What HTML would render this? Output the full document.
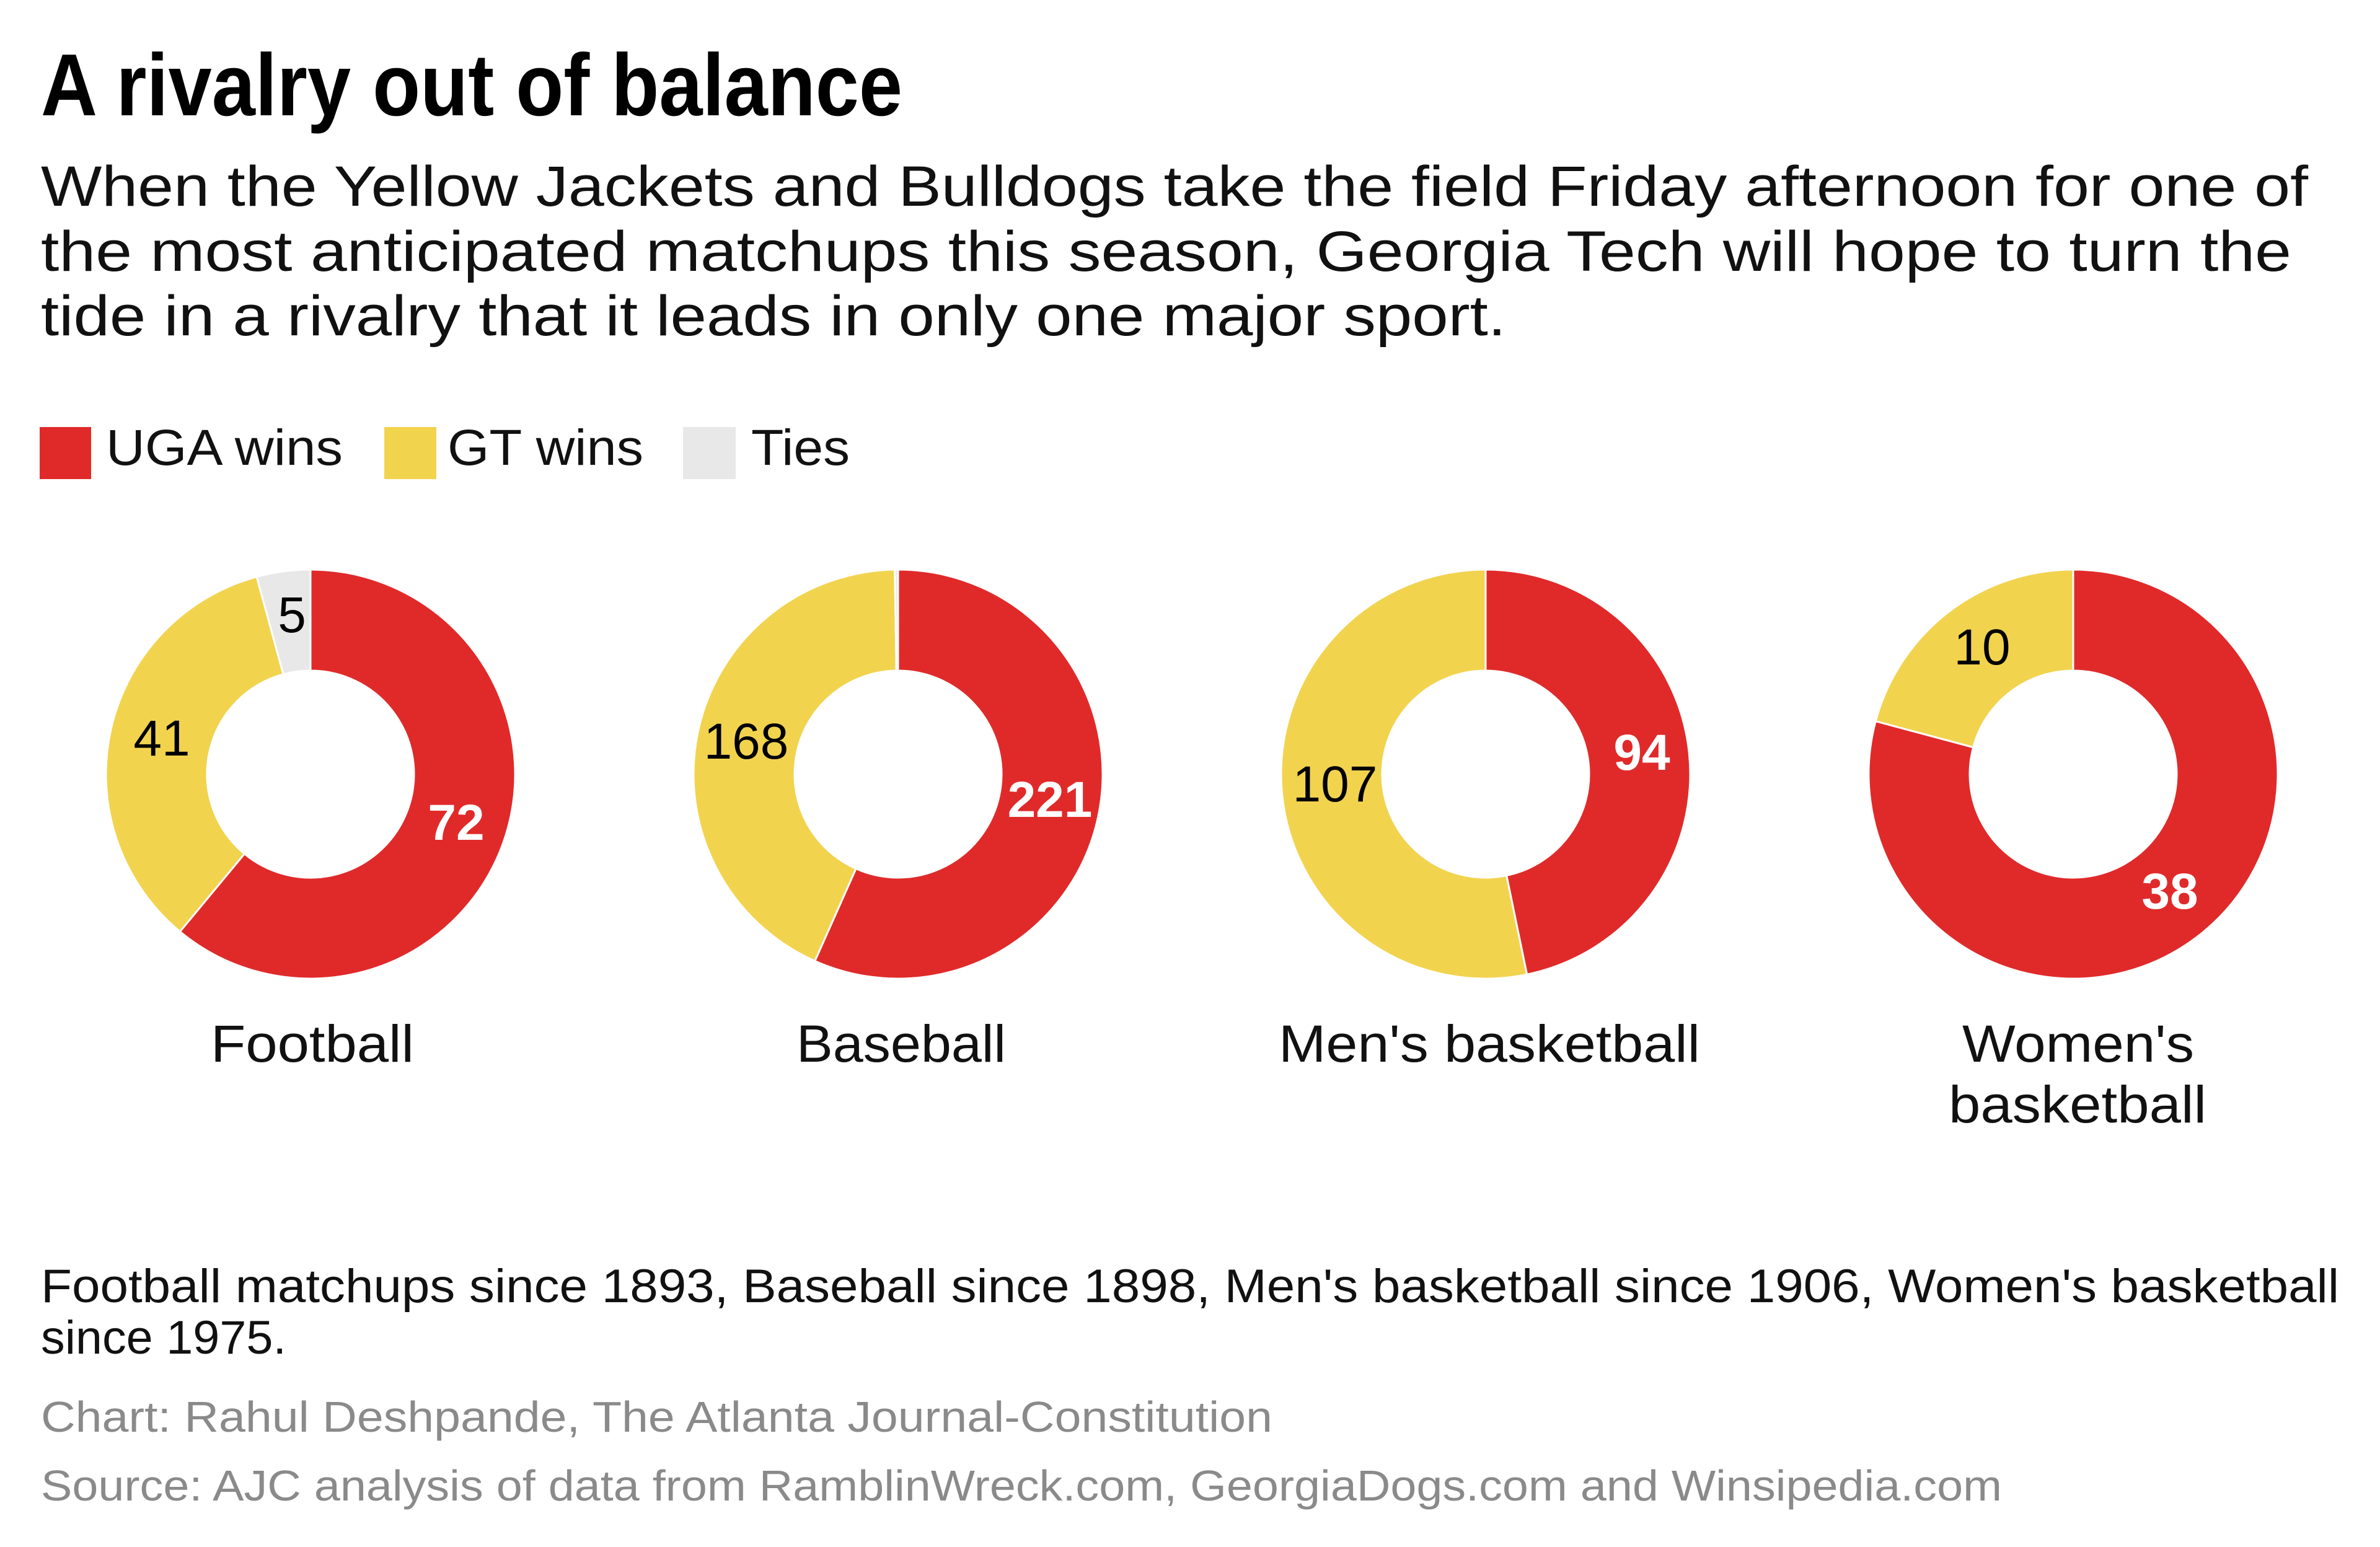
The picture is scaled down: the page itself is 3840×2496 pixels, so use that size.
<!DOCTYPE html>
<html><head><meta charset="utf-8"><style>
html,body{margin:0;padding:0;background:#fff;}
svg{display:block;}
text{font-family:"Liberation Sans",sans-serif;}
</style></head><body>
<svg id="s" width="3840" height="2496" viewBox="0 0 3840 2496" xmlns="http://www.w3.org/2000/svg">
<rect width="3840" height="2496" fill="#fff"/>
<text x="66" y="186" font-size="142" font-weight="bold" fill="#000" textLength="1390" lengthAdjust="spacingAndGlyphs">A rivalry out of balance</text>
<g font-size="92" fill="#111">
<text x="66" y="332" textLength="3658" lengthAdjust="spacingAndGlyphs">When the Yellow Jackets and Bulldogs take the field Friday afternoon for one of</text>
<text x="66" y="437" textLength="3631" lengthAdjust="spacingAndGlyphs">the most anticipated matchups this season, Georgia Tech will hope to turn the</text>
<text x="66" y="541" textLength="2364" lengthAdjust="spacingAndGlyphs">tide in a rivalry that it leads in only one major sport.</text>
</g>
<rect x="64" y="689" width="83" height="84" fill="#e02a2a"/>
<rect x="620" y="689" width="84" height="84" fill="#f2d34e"/>
<rect x="1102" y="689" width="85" height="84" fill="#e8e8e8"/>
<g font-size="82" fill="#111">
<text x="171" y="750" textLength="382" lengthAdjust="spacingAndGlyphs">UGA wins</text>
<text x="722" y="750" textLength="316" lengthAdjust="spacingAndGlyphs">GT wins</text>
<text x="1212" y="750" textLength="159" lengthAdjust="spacingAndGlyphs">Ties</text>
</g>
<g id="donuts"></g>
<g font-size="82" fill="#000" text-anchor="middle">
<text x="471" y="1020">5</text>
<text x="261" y="1219">41</text>
<text x="736" y="1355" fill="#fff" font-weight="bold">72</text>
<text x="1204" y="1224">168</text>
<text x="1694" y="1318" fill="#fff" font-weight="bold">221</text>
<text x="2154" y="1293">107</text>
<text x="2649" y="1242" fill="#fff" font-weight="bold">94</text>
<text x="3198" y="1072">10</text>
<text x="3501" y="1466" fill="#fff" font-weight="bold">38</text>
</g>
<g font-size="84" fill="#111">
<text x="340" y="1713" textLength="328" lengthAdjust="spacingAndGlyphs">Football</text>
<text x="1285" y="1713" textLength="338" lengthAdjust="spacingAndGlyphs">Baseball</text>
<text x="2063" y="1713" textLength="680" lengthAdjust="spacingAndGlyphs">Men's basketball</text>
<text x="3166" y="1713" textLength="374" lengthAdjust="spacingAndGlyphs">Women's</text>
<text x="3144" y="1811" textLength="416" lengthAdjust="spacingAndGlyphs">basketball</text>
</g>
<g font-size="76" fill="#111">
<text x="66" y="2101" textLength="3708" lengthAdjust="spacingAndGlyphs">Football matchups since 1893, Baseball since 1898, Men's basketball since 1906, Women's basketball</text>
<text x="66" y="2184" textLength="396" lengthAdjust="spacingAndGlyphs">since 1975.</text>
</g>
<g font-size="70" fill="#8a8a8a">
<text x="66" y="2310" textLength="1987" lengthAdjust="spacingAndGlyphs">Chart: Rahul Deshpande, The Atlanta Journal-Constitution</text>
<text x="66" y="2421" textLength="3164" lengthAdjust="spacingAndGlyphs">Source: AJC analysis of data from RamblinWreck.com, GeorgiaDogs.com and Winsipedia.com</text>
</g>
</svg>
<script>
(function(){
var g=document.getElementById('donuts');
var R=330,r=167,cy=1249;
var charts=[[501,[[72,'#e02a2a'],[41,'#f2d34e'],[5,'#e8e8e8']]],
[1449,[[221,'#e02a2a'],[168,'#f2d34e'],[1,'#e8e8e8']]],
[2397,[[94,'#e02a2a'],[107,'#f2d34e']]],
[3345,[[38,'#e02a2a'],[10,'#f2d34e']]]];
function pt(cx,rad,a){return [cx+rad*Math.sin(a),cy-rad*Math.cos(a)];}
charts.forEach(function(c){
var cx=c[0],tot=0;c[1].forEach(function(s){tot+=s[0];});
var a0=0;
c[1].forEach(function(s){
var a1=a0+s[0]/tot*2*Math.PI;var big=(a1-a0)>Math.PI?1:0;
var p1=pt(cx,R,a0),p2=pt(cx,R,a1),p3=pt(cx,r,a1),p4=pt(cx,r,a0);
var d='M'+p1+' A'+R+' '+R+' 0 '+big+' 1 '+p2+' L'+p3+' A'+r+' '+r+' 0 '+big+' 0 '+p4+' Z';
var p=document.createElementNS('http://www.w3.org/2000/svg','path');
p.setAttribute('d',d);p.setAttribute('fill',s[1]);p.setAttribute('stroke','#fff');p.setAttribute('stroke-width','3');
g.appendChild(p);a0=a1;});
});
})();
</script>
</body></html>
